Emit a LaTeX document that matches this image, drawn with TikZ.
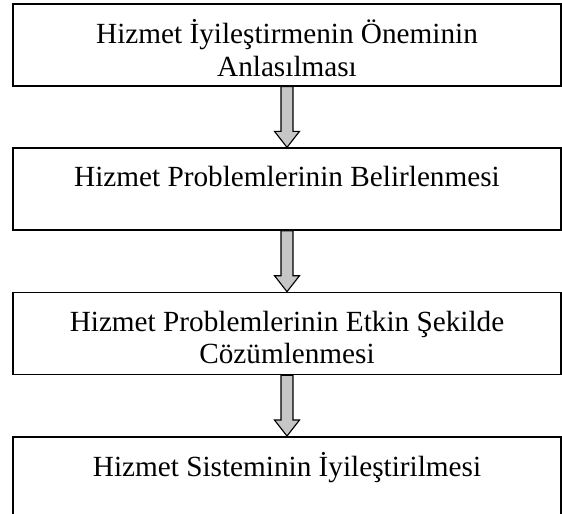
\documentclass[tikz,border=0pt]{standalone}
\usepackage{fontspec}
\setmainfont{Liberation Serif}
\usetikzlibrary{positioning,calc}
\tikzset{
  kutu/.style={draw, line width=1.1pt, minimum width=13.7cm, minimum height=2.05cm, inner sep=0pt},
  yazi/.style={align=center, inner sep=0pt, font=\fontsize{20.8pt}{23.4pt}\selectfont},
  pil/.style={draw, line width=0.8pt, fill=gray!45}
}
\begin{document}
\begin{tikzpicture}
    \useasboundingbox (0,0) rectangle (14.05,-12.85);
    % Kutular
    \node[kutu, anchor=north] (b1) at (7.175,-0.075) {};
    \node[kutu, below=1.52cm of b1] (b2) {};
    \node[kutu, below=1.52cm of b2] (b3) {};
    \node[kutu, below=1.52cm of b3] (b4) {};
    % Metinler
    \node[yazi, below=0.4cm of b1.north] (t1) {\strut Hizmet İyileştirmenin Öneminin\\\strut Anlasılması};
    \node[yazi, below=0.4cm of b2.north] (t2) {\strut Hizmet Problemlerinin Belirlenmesi};
    \node[yazi, below=0.4cm of b3.north] (t3) {\strut Hizmet Problemlerinin Etkin Şekilde\\\strut Cözümlenmesi};
    \node[yazi, below=0.4cm of b4.north] (t4) {\strut Hizmet Sisteminin İyileştirilmesi};
    % Oklar
    \foreach \a/\b in {b1/b2, b2/b3, b3/b4}
        \draw[pil, xshift=0.05cm] ($(\a.south)+(-0.15,0)$) -- ($(\b.north)+(-0.15,0.4)$)
            -- ++(-0.1625,0) -- (\b.north) -- ++(0.3125,0.4) -- ++(-0.1625,0)
            -- ($(\a.south)+(0.15,0)$) -- cycle;
\end{tikzpicture}
\end{document}
